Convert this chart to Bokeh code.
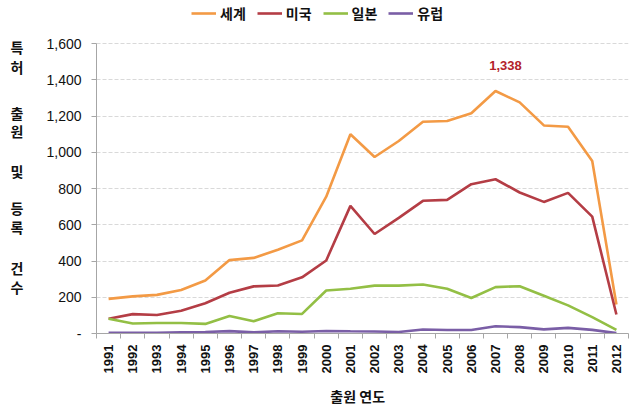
import math
from bokeh.plotting import figure
from bokeh.models import (Legend, LegendItem, Label, FixedTicker, NumeralTickFormatter,
                          Range1d, LinearAxis)
from bokeh.embed import file_html
from bokeh.resources import INLINE

years = list(range(1991, 2013))
year_labels = [str(y) for y in years]

world = [191, 205, 213, 240, 292, 405, 417, 462, 514, 755, 1099, 974, 1062, 1168, 1172, 1215, 1338, 1275, 1148, 1141, 952, 160]
usa = [81, 107, 102, 125, 167, 225, 260, 265, 310, 403, 704, 549, 638, 732, 737, 824, 851, 778, 726, 776, 645, 105]
japan = [81, 55, 58, 58, 53, 97, 68, 112, 108, 237, 247, 264, 264, 270, 247, 196, 256, 261, 208, 155, 90, 20]
europe = [4, 4, 4, 7, 8, 13, 6, 12, 10, 14, 12, 11, 8, 22, 19, 19, 40, 35, 23, 31, 20, 2]

series_names = ["세계", "미국", "일본", "유럽"]
series_colors = ["#f39a45", "#b43d45", "#93bf45", "#7a5ea6"]
y_ticks = [0, 200, 400, 600, 800, 1000, 1200, 1400, 1600]
peak_text = "1,338"
x_title = "출원 연도"
# vertical, stacked y-axis title: characters and the value level each sits at
ylabel_chars = ["특", "허", "출", "원", "및", "등", "록", "건", "수"]
ylabel_levels = [1578, 1468, 1219, 1120, 899, 690, 590, 359, 259]

W, H = 643, 411
FRAME_BOTTOM_PX = 78          # space below the value axis
AXIS_PX = 290                 # pixels for 0..1600
y_top = y_ticks[-1] * (H - FRAME_BOTTOM_PX) / AXIS_PX   # headroom above 1600 holds the legend

p = figure(width=W, height=H, output_backend="svg", toolbar_location=None,
           x_range=Range1d(1990.5, 2012.5), y_range=Range1d(0, y_top),
           min_border_left=96, min_border_right=15, min_border_top=0,
           min_border_bottom=FRAME_BOTTOM_PX)
p.outline_line_color = None
p.background_fill_color = "white"
p.border_fill_color = "white"

renderers = []
for vals, c in zip([world, usa, japan, europe], series_colors):
    r = p.line(years, vals, line_color=c, line_width=2.6)
    renderers.append(r)

# x axis
xa = p.xaxis[0]
xa.ticker = FixedTicker(ticks=years, minor_ticks=[y - 0.5 for y in years] + [years[-1] + 0.5])
xa.major_label_overrides = {y: s for y, s in zip(years, year_labels)}
xa.major_label_orientation = math.pi / 2
xa.major_tick_out = 0
xa.major_tick_in = 0
xa.minor_tick_out = 5
xa.minor_tick_in = 0
xa.minor_tick_line_color = "#a6a6a6"
xa.axis_line_color = "#a6a6a6"
xa.major_label_text_font = "Liberation Sans"
xa.major_label_text_font_size = "13px"
xa.major_label_text_font_style = "bold"
xa.major_label_text_color = "#111111"
xa.major_label_standoff = 6

# x axis title as a tick-less second axis below
xt = LinearAxis(ticker=FixedTicker(ticks=[2001.3]), major_label_overrides={2001.3: x_title},
                axis_line_color=None, major_tick_line_color=None, minor_tick_line_color=None,
                major_tick_out=0, major_tick_in=0, minor_tick_out=0, minor_tick_in=0,
                major_label_standoff=9, major_label_text_font="Noto Sans CJK KR",
                major_label_text_font_size="14px", major_label_text_font_style="bold",
                major_label_text_color="#111111")
p.add_layout(xt, "below")

# y axis
ya = p.yaxis[0]
ya.ticker = FixedTicker(ticks=y_ticks)
ya.bounds = (y_ticks[0], y_ticks[-1])
ya.formatter = NumeralTickFormatter(format="0,0")
ya.major_label_overrides = {0: "-"}
ya.major_tick_out = 5
ya.major_tick_in = 0
ya.minor_tick_out = 0
ya.minor_tick_in = 0
ya.minor_tick_line_color = None
ya.major_tick_line_color = "#a6a6a6"
ya.axis_line_color = "#a6a6a6"
ya.major_label_text_font = "Liberation Sans"
ya.major_label_text_font_size = "14px"
ya.major_label_text_color = "#111111"
ya.major_label_standoff = 10

# y axis title as a tick-less second axis on the left
yt = LinearAxis(ticker=FixedTicker(ticks=ylabel_levels),
                major_label_overrides={v: c for v, c in zip(ylabel_levels, ylabel_chars)},
                axis_line_color=None, major_tick_line_color=None, minor_tick_line_color=None,
                major_tick_out=0, major_tick_in=0, minor_tick_out=0, minor_tick_in=0,
                major_label_standoff=20, major_label_orientation="horizontal",
                major_label_text_font="Noto Sans CJK KR", major_label_text_font_size="14px",
                major_label_text_font_style="bold", major_label_text_color="#111111")
p.add_layout(yt, "left")

p.xgrid.grid_line_color = None
p.ygrid.grid_line_color = "#d9d9d9"
p.ygrid.grid_line_dash = "4 2"
p.ygrid.grid_line_width = 1

# peak annotation
imax = world.index(max(world))
p.add_layout(Label(x=years[imax], y=world[imax], text=peak_text, x_offset=10, y_offset=25,
                   text_font="Liberation Sans", text_font_size="13px", text_font_style="bold",
                   text_color="#b3222a", text_align="center", text_baseline="middle"))

legend = Legend(items=[LegendItem(label=n, renderers=[r]) for n, r in zip(series_names, renderers)],
                orientation="horizontal", location=(95, H - FRAME_BOTTOM_PX - 23),
                glyph_width=25, glyph_height=16, label_height=16, label_standoff=4,
                spacing=11, padding=0, margin=0,
                label_text_font="Noto Sans CJK KR", label_text_font_size="14px",
                label_text_font_style="bold", label_text_color="#111111",
                border_line_color=None, background_fill_alpha=0)
p.add_layout(legend, "center")

open("out.html", "w").write(file_html(p, INLINE))
